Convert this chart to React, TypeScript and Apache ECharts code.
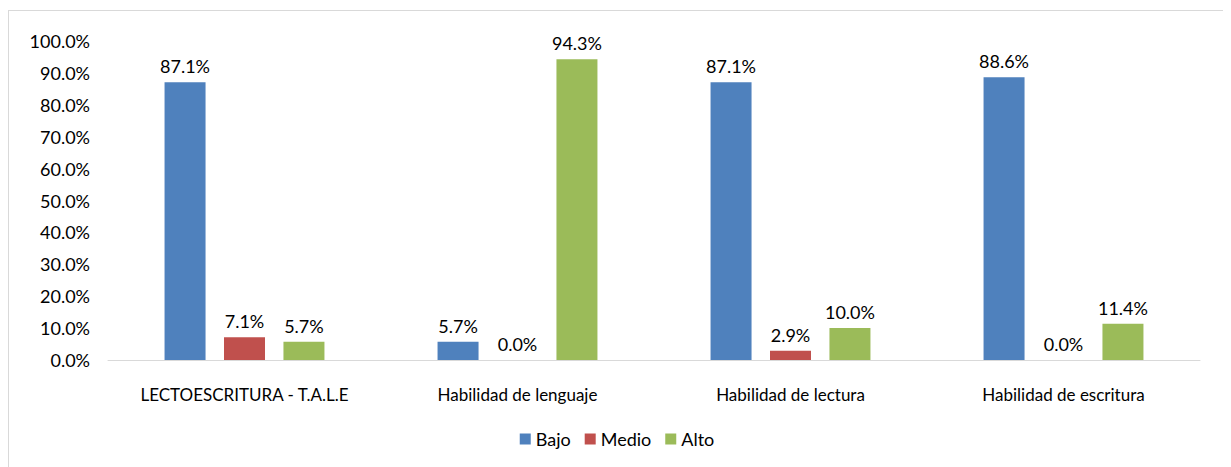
import React, { useEffect, useRef } from "react";
import * as echarts from "echarts";

const categories = [
  "LECTOESCRITURA - T.A.L.E",
  "Habilidad de lenguaje",
  "Habilidad de lectura",
  "Habilidad de escritura",
];
const bajo = [87.1, 5.7, 87.1, 88.6];
const medio = [7.1, 0.0, 2.9, 0.0];
const alto = [5.7, 94.3, 10.0, 11.4];
const seriesNames = ["Bajo", "Medio", "Alto"];
const colors = ["#4F81BD", "#C0504D", "#9BBB59"];

const FONT = "Lato, 'Open Sans', sans-serif";
const FS = 18;

export default function App() {
  const ref = useRef<HTMLDivElement>(null);
  useEffect(() => {
    if (!ref.current) return;
    const chart = echarts.init(ref.current, undefined, { renderer: "svg" });
    const data = [bajo, medio, alto];
    chart.setOption({
      animation: false,
      textStyle: { fontFamily: FONT },
      grid: { left: 99, right: 25, top: 30, bottom: 107, containLabel: false },
      legend: {
        bottom: 14,
        left: "center",
        itemWidth: 11,
        itemHeight: 11,
        itemGap: 14,
        icon: "rect",
        textStyle: { fontFamily: FONT, fontSize: FS, color: "#000" },
        data: seriesNames,
      },
      xAxis: {
        type: "category",
        data: categories,
        axisLine: { lineStyle: { color: "#D9D9D9", width: 1 } },
        axisTick: { show: false },
        axisLabel: { color: "#000", fontSize: 17, fontFamily: FONT, margin: 26 },
      },
      yAxis: {
        type: "value",
        min: 0,
        max: 100,
        interval: 10,
        axisLine: { show: false },
        axisTick: { show: false },
        splitLine: { show: false },
        axisLabel: {
          color: "#000",
          fontSize: FS,
          fontFamily: FONT,
          margin: 18,
          formatter: (v: number) => v.toFixed(1) + "%",
        },
      },
      series: seriesNames.map((name, i) => ({
        name,
        type: "bar",
        data: data[i],
        barWidth: 41,
        barGap: "45%",
        itemStyle: { color: colors[i] },
        label: {
          show: true,
          position: "top",
          distance: 7,
          color: "#000",
          fontSize: FS,
          fontFamily: FONT,
          formatter: (p: any) => Number(p.value).toFixed(1) + "%",
        },
      })),
    });
    return () => chart.dispose();
  }, []);
  return (
    <div
      style={{
        marginTop: 2,
        width: 1218,
        height: 457,
        border: "1px solid #D9D9D9",
        borderBottom: "none",
        boxSizing: "border-box",
      }}
    >
      <div ref={ref} style={{ width: 1216, height: 456 }} />
    </div>
  );
}
